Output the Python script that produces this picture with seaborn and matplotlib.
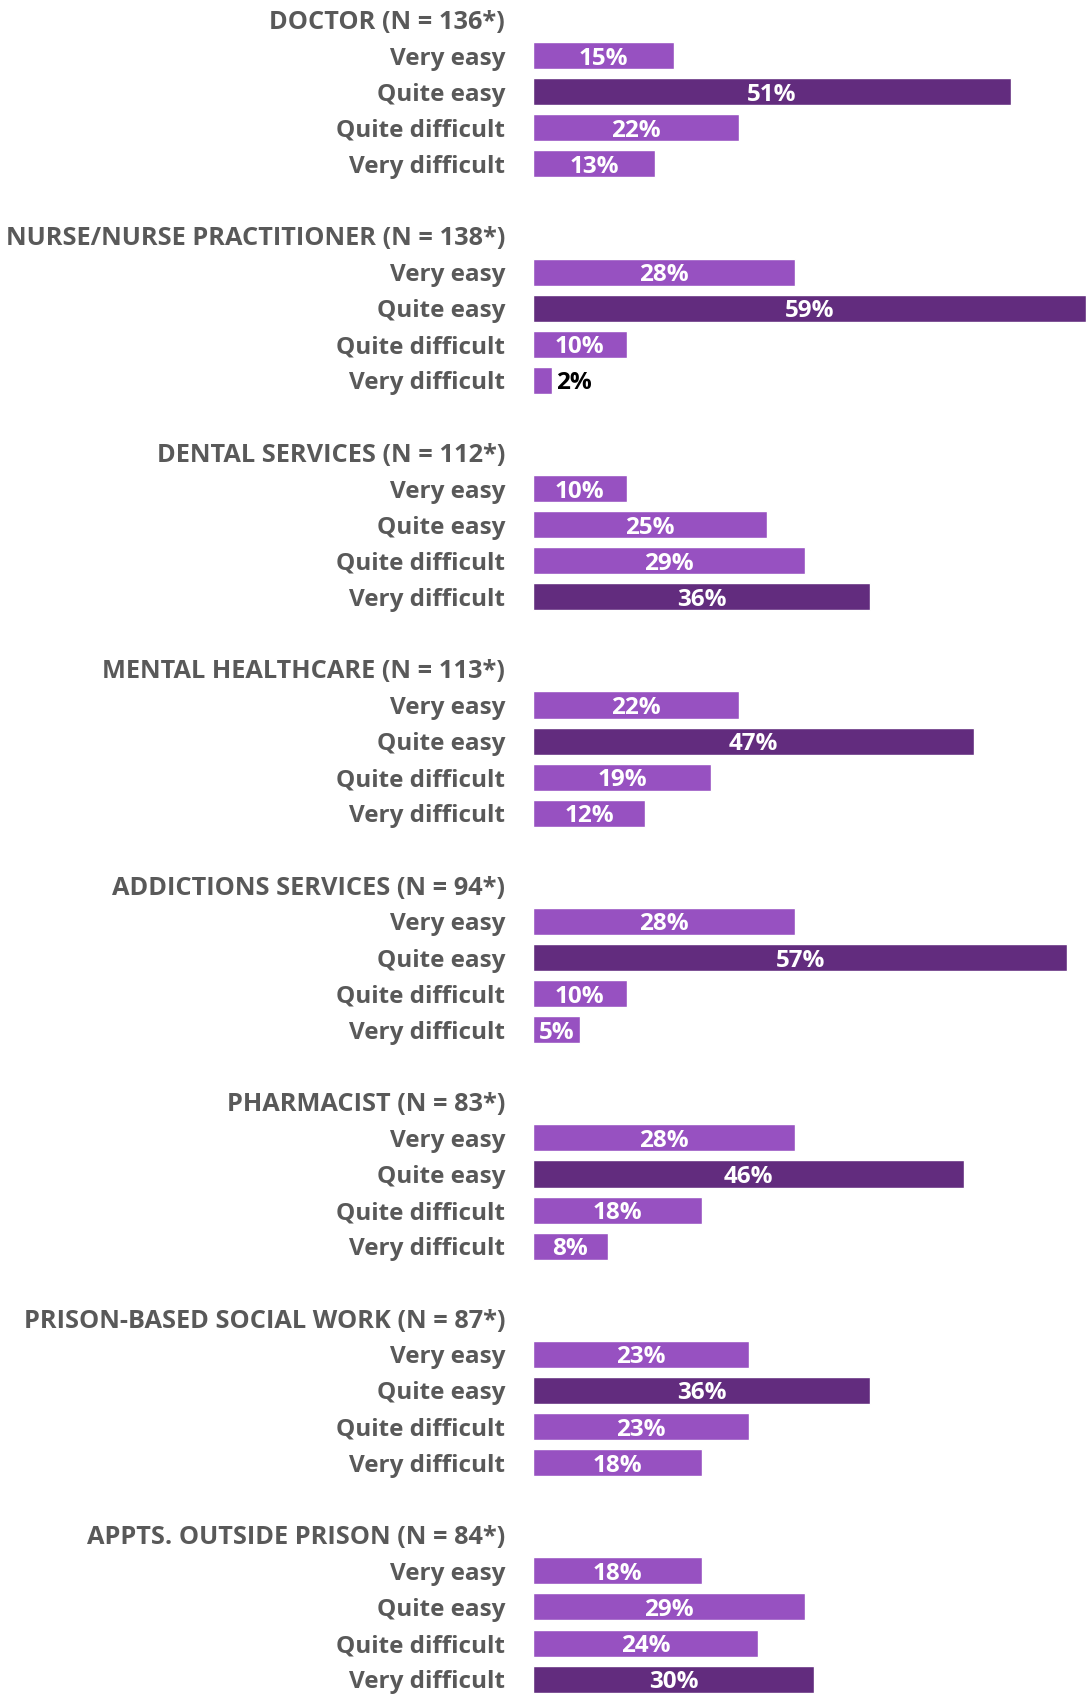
import pandas as pd
import seaborn as sns
import matplotlib.pyplot as plt

# Data
groups = [
    "DOCTOR (N = 136*)",
    "NURSE/NURSE PRACTITIONER (N = 138*)",
    "DENTAL SERVICES (N = 112*)",
    "MENTAL HEALTHCARE (N = 113*)",
    "ADDICTIONS SERVICES (N = 94*)",
    "PHARMACIST (N = 83*)",
    "PRISON-BASED SOCIAL WORK (N = 87*)",
    "APPTS. OUTSIDE PRISON (N = 84*)",
]
answers = ["Very easy", "Quite easy", "Quite difficult", "Very difficult"]

doctor = [15, 51, 22, 13]
nurse = [28, 59, 10, 2]
dental = [10, 25, 29, 36]
mental = [22, 47, 19, 12]
addictions = [28, 57, 10, 5]
pharmacist = [28, 46, 18, 8]
social_work = [23, 36, 23, 18]
appts = [18, 29, 24, 30]

values = [doctor, nurse, dental, mental, addictions, pharmacist, social_work, appts]

LIGHT = "#9751C1"
DARK = "#622C7E"
GREY = "#595959"

# build one row per line of the chart (header, 4 answers, blank spacer)
rows = []
order = []
tick_labels = []
for g, (name, vals) in enumerate(zip(groups, values)):
    order.append(f"h{g}")
    tick_labels.append(name)
    top = max(vals)
    for a, v in zip(answers, vals):
        key = f"{g}_{a}"
        order.append(key)
        tick_labels.append(a)
        rows.append({"row": key, "pct": v, "shade": "dark" if v == top else "light"})
    if g < len(groups) - 1:
        order.append(f"b{g}")
        tick_labels.append("")

df = pd.DataFrame(rows)

sns.set_style("white")
plt.rcParams["font.family"] = ["Open Sans", "DejaVu Sans"]
FS = 17.5

fig = plt.figure(figsize=(10.86, 16.95), dpi=100)
ax = fig.add_axes([533 / 1086, 0, 553 / 1086, 1])

sns.barplot(
    data=df, y="row", x="pct", hue="shade", order=order,
    palette={"light": LIGHT, "dark": DARK}, orient="h",
    width=0.75, legend=False, ax=ax, saturation=1,
)

ax.set_xlim(0, 59)
ax.set_ylim(len(order) - 1 + 0.44, -0.54)
ax.set_yticks(range(len(order)))
ax.set_yticklabels(tick_labels, fontsize=FS, fontweight="bold", color=GREY)
for key, lbl in zip(order, ax.get_yticklabels()):
    if key.startswith("h"):
        lbl.set_fontsize(18.3)
ax.tick_params(axis="y", length=0, pad=20)
ax.set_xticks([])
ax.set_xlabel("")
ax.set_ylabel("")
for s in ax.spines.values():
    s.set_visible(False)

# value labels
pos = {k: i for i, k in enumerate(order)}
for _, r in df.iterrows():
    y = pos[r["row"]]
    if r["pct"] < 4:
        ax.text(r["pct"] + 0.5, y, f"{r['pct']}%", ha="left", va="center_baseline",
                fontsize=FS, fontweight="bold", color="black")
    else:
        ax.text(r["pct"] / 2, y, f"{r['pct']}%", ha="center", va="center_baseline",
                fontsize=FS, fontweight="bold", color="white")

fig.savefig("out.png", dpi=100)
